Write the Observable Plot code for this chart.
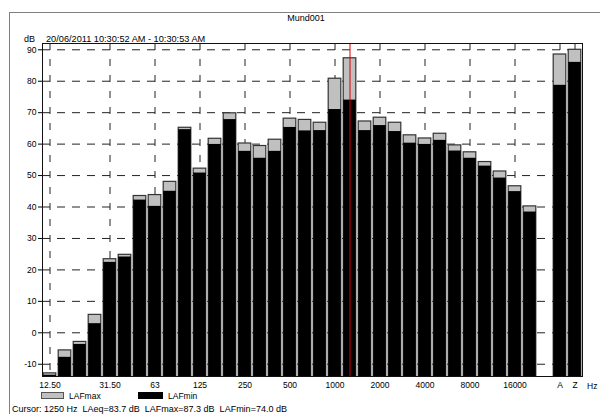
<!DOCTYPE html>
<html>
<head>
<meta charset="utf-8">
<script src="https://cdn.jsdelivr.net/npm/d3@7"></script>
<script src="https://cdn.jsdelivr.net/npm/@observablehq/plot@0.6"></script>
<style>
  html, body { margin: 0; padding: 0; background: #fff; }
  #chart { position: absolute; left: 0; top: 0; width: 600px; height: 414px; overflow: hidden; }
  svg { font-family: "Liberation Sans", Arial, sans-serif; }
</style>
</head>
<body>
<div id="chart"></div>
<script>
const freqs = ["12.5","16","20","25","31.5","40","50","63","80","100","125","160","200","250","315","400","500","630","800","1000","1250","1600","2000","2500","3150","4000","5000","6300","8000","10000","12500","16000","20000","A","Z"];
const lafmax = [-12.9,-5.6,-2.9,5.7,23.4,24.8,43.5,43.8,48.0,65.2,52.2,61.7,69.8,60.2,59.4,61.4,68.1,67.7,66.8,80.8,87.3,67.2,68.4,66.8,62.8,61.8,63.3,59.6,57.4,54.3,51.3,46.6,40.2,88.5,90.0];
const lafmin = [-13.5,-7.8,-3.7,2.9,22.4,24.1,42.2,40.2,45.0,64.6,50.8,59.9,67.8,57.7,55.5,57.7,65.3,64.2,64.3,71.0,74.0,64.3,65.9,64.0,60.3,59.9,61.2,57.8,55.5,53.0,49.2,44.9,38.4,78.7,86.0];
const tickVals = ["12.5","31.5","63","125","250","500","1000","2000","4000","8000","16000","A","Z"];
const tickText = ["12.50","31.50","63","125","250","500","1000","2000","4000","8000","16000","A","Z"];
const yTicks = [-10,0,10,20,30,40,50,60,70,80,90];
const cursorFreq = "1250";
const title = "Mund001";
const dateText = "20/06/2011 10:30:52 AM - 10:30:53 AM";
const cursorText = "Cursor: 1250 Hz  LAeq=83.7 dB  LAFmax=87.3 dB  LAFmin=74.0 dB";
const seriesNames = ["LAFmax", "LAFmin"];
const yMin = -13.9, yMax = 92;

const rows = freqs.map((f, i) => ({f, max: lafmax[i], min: lafmin[i]}));
const xDomain = [...freqs.slice(0, 33), "\u00a0", "A", "Z"];
const labelOf = new Map(tickVals.map((v, i) => [v, tickText[i]]));

const plot = Plot.plot({
  width: 600,
  height: 414,
  marginLeft: 42,
  marginRight: 18,
  marginTop: 43,
  marginBottom: 38,
  style: {fontSize: "8.5px", fontFamily: "'Liberation Sans', Arial, sans-serif", color: "#000", background: "transparent"},
  x: {type: "band", domain: xDomain, padding: 0, axis: null, label: null},
  y: {domain: [yMin, yMax], axis: null, label: null},
  marks: [
    Plot.gridY(yTicks, {stroke: "#222", strokeOpacity: 1, strokeDasharray: "8,7"}),
    Plot.gridX(tickVals, {stroke: "#222", strokeOpacity: 1, strokeDasharray: "7,9"}),
    Plot.barY(rows, {x: "f", y1: yMin, y2: "max", fill: "#c0c0c0", stroke: "#333", strokeWidth: 1.2, insetLeft: 1.2, insetRight: 1.2}),
    Plot.barY(rows, {x: "f", y1: yMin, y2: "min", fill: "#000", insetLeft: 1.2, insetRight: 1.2}),
    Plot.ruleX([cursorFreq], {stroke: "#e00000", strokeWidth: 1}),
    Plot.frame({stroke: "#111"}),
    Plot.axisY(yTicks, {label: null, tickSize: 4, tickPadding: 2, tickFormat: d => String(d), fill: "#000"}),
    Plot.axisX(tickVals, {label: null, tickSize: 0, tickPadding: 5, tickFormat: d => labelOf.get(d), fill: "#000"})
  ]
});

document.getElementById("chart").appendChild(plot);

const svg = d3.select(plot);
const font = "'Liberation Sans', Arial, sans-serif";
// outer border
svg.insert("rect", ":first-child")
  .attr("x", 9.5).attr("y", 12.5).attr("width", 620).attr("height", 420)
  .attr("fill", "none").attr("stroke", "#808080");
const addText = (x, y, t, anchor = "start", size = 8.5) =>
  svg.append("text").attr("x", x).attr("y", y).attr("text-anchor", anchor)
    .attr("font-size", size).attr("font-family", font).attr("fill", "#000")
    .style("white-space", "pre").attr("xml:space", "preserve").text(t);
addText(306, 21, title, "middle", 9);
addText(24, 41.5, "dB", "start", 9);
addText(46, 41.5, dateText, "start", 9.2);
addText(587, 388.5, "Hz");
// legend
svg.append("rect").attr("x", 41.5).attr("y", 392.5).attr("width", 22).attr("height", 6)
  .attr("fill", "#c0c0c0").attr("stroke", "#555");
addText(69, 399, seriesNames[0]);
svg.append("rect").attr("x", 138).attr("y", 392).attr("width", 25).attr("height", 7).attr("fill", "#000");
addText(168, 399, seriesNames[1]);
addText(12, 411.5, cursorText, "start", 9);
</script>
</body>
</html>
